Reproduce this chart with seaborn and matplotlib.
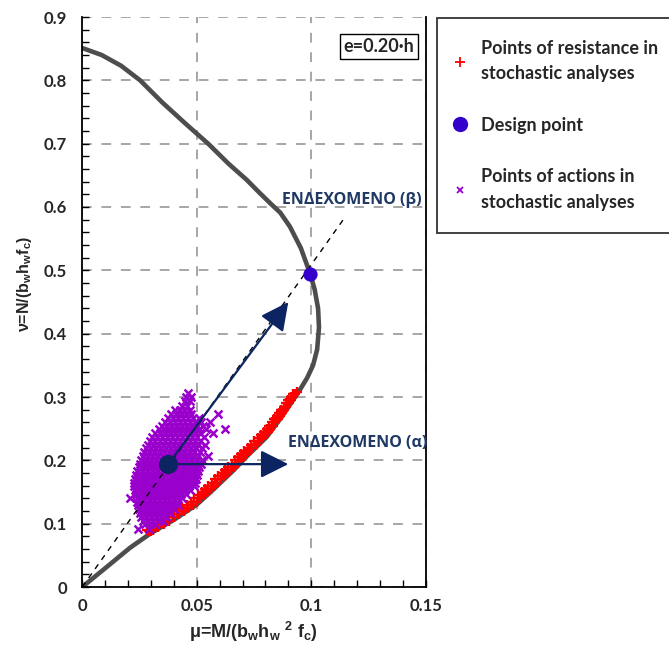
import matplotlib
matplotlib.use("Agg")
import matplotlib.pyplot as plt
import seaborn as sns
import pandas as pd
from matplotlib.lines import Line2D
from matplotlib.ticker import MultipleLocator, FuncFormatter

# ---------------- data ----------------
# M-N interaction curve for e = 0.20 h (normalised), traced from the origin
curve_mu = [0.0, 0.0105, 0.0209, 0.0300, 0.0400, 0.0500, 0.0573, 0.0660, 0.0718,
            0.0806, 0.0872, 0.0950, 0.0982, 0.1008, 0.1026, 0.1034, 0.1030, 0.1015,
            0.0995, 0.0955, 0.0907, 0.0865, 0.0821, 0.0770, 0.0718, 0.0640, 0.0550,
            0.0450, 0.0350, 0.0253, 0.0170, 0.0085, 0.0]
curve_nu = [0.0, 0.031, 0.062, 0.085, 0.106, 0.130, 0.154, 0.184, 0.206,
            0.237, 0.269, 0.311, 0.330, 0.350, 0.375, 0.410, 0.440, 0.470,
            0.495, 0.535, 0.569, 0.591, 0.606, 0.624, 0.643, 0.668, 0.700,
            0.732, 0.765, 0.800, 0.823, 0.840, 0.851]

# loading ray through the origin
ray_mu = [0.0, 0.114]
ray_nu = [0.0, 0.580]

design_point = (0.0993, 0.494)
action_point = (0.0376, 0.194)
arrow_tip_b = (0.0900, 0.450)
arrow_tip_a = (0.0900, 0.194)

# resistance points of the stochastic analyses (mu, nu)
resistance_points = [
    (0.0300, 0.088), (0.0290, 0.088), (0.0310, 0.090), (0.0285, 0.090),
    (0.0333, 0.095), (0.0305, 0.095), (0.0356, 0.100), (0.0328, 0.100),
    (0.0380, 0.105), (0.0352, 0.105), (0.0402, 0.110), (0.0373, 0.110),
    (0.0423, 0.115), (0.0395, 0.115), (0.0443, 0.120), (0.0416, 0.120),
    (0.0464, 0.125), (0.0437, 0.125), (0.0485, 0.130), (0.0458, 0.130),
    (0.0500, 0.135), (0.0474, 0.135), (0.0516, 0.140), (0.0490, 0.140),
    (0.0531, 0.145), (0.0505, 0.145), (0.0546, 0.150), (0.0521, 0.150),
    (0.0561, 0.155), (0.0536, 0.155), (0.0575, 0.160), (0.0551, 0.160),
    (0.0590, 0.165), (0.0566, 0.165), (0.0604, 0.170), (0.0580, 0.170),
    (0.0619, 0.175), (0.0595, 0.175), (0.0633, 0.180), (0.0609, 0.180),
    (0.0648, 0.185), (0.0624, 0.185), (0.0661, 0.190), (0.0638, 0.190),
    (0.0675, 0.195), (0.0652, 0.195), (0.0688, 0.200), (0.0666, 0.200),
    (0.0700, 0.205), (0.0679, 0.205), (0.0714, 0.210), (0.0693, 0.210),
    (0.0728, 0.215), (0.0708, 0.215), (0.0743, 0.220), (0.0723, 0.220),
    (0.0757, 0.225), (0.0738, 0.225), (0.0771, 0.230), (0.0752, 0.230),
    (0.0786, 0.235), (0.0767, 0.235), (0.0800, 0.240), (0.0782, 0.240),
    (0.0811, 0.245), (0.0795, 0.245), (0.0822, 0.250), (0.0806, 0.250),
    (0.0832, 0.255), (0.0817, 0.255), (0.0842, 0.260), (0.0828, 0.260),
    (0.0853, 0.265), (0.0839, 0.265), (0.0863, 0.270), (0.0849, 0.270),
    (0.0872, 0.275), (0.0859, 0.275), (0.0882, 0.280), (0.0870, 0.280),
    (0.0892, 0.285), (0.0880, 0.285), (0.0901, 0.290), (0.0890, 0.290),
    (0.0911, 0.295), (0.0900, 0.295), (0.0921, 0.300), (0.0910, 0.300),
    (0.0930, 0.305), (0.0920, 0.305), (0.0937, 0.308),
]

# action points of the stochastic analyses (mu, nu)
action_points = [
    (0.0462, 0.307),
    (0.0455, 0.300), (0.0474, 0.300),
    (0.0448, 0.293), (0.0471, 0.293),
    (0.0437, 0.286), (0.0458, 0.286),
    (0.0405, 0.279), (0.0427, 0.279), (0.0449, 0.279), (0.0470, 0.279),
    (0.0388, 0.273), (0.0410, 0.273), (0.0432, 0.273), (0.0454, 0.273), (0.0476, 0.273), (0.0594, 0.273),
    (0.0374, 0.267), (0.0396, 0.267), (0.0418, 0.267), (0.0440, 0.267), (0.0462, 0.267), (0.0484, 0.267),
    (0.0508, 0.267),
    (0.0362, 0.261), (0.0384, 0.261), (0.0406, 0.261), (0.0428, 0.261), (0.0450, 0.261), (0.0472, 0.261),
    (0.0494, 0.261), (0.0520, 0.261), (0.0556, 0.261),
    (0.0348, 0.255), (0.0370, 0.255), (0.0392, 0.255), (0.0414, 0.255), (0.0436, 0.255), (0.0458, 0.255),
    (0.0480, 0.255), (0.0502, 0.255), (0.0528, 0.255),
    (0.0334, 0.249), (0.0356, 0.249), (0.0378, 0.249), (0.0400, 0.249), (0.0422, 0.249), (0.0444, 0.249),
    (0.0466, 0.249), (0.0488, 0.249), (0.0510, 0.249), (0.0540, 0.249), (0.0624, 0.249),
    (0.0318, 0.243), (0.0340, 0.243), (0.0362, 0.243), (0.0384, 0.243), (0.0406, 0.243), (0.0428, 0.243),
    (0.0450, 0.243), (0.0472, 0.243), (0.0494, 0.243), (0.0516, 0.243), (0.0573, 0.243),
    (0.0304, 0.237), (0.0326, 0.237), (0.0348, 0.237), (0.0370, 0.237), (0.0392, 0.237), (0.0414, 0.237),
    (0.0436, 0.237), (0.0458, 0.237), (0.0480, 0.237), (0.0502, 0.237), (0.0532, 0.237),
    (0.0294, 0.231), (0.0316, 0.231), (0.0338, 0.231), (0.0360, 0.231), (0.0382, 0.231), (0.0404, 0.231),
    (0.0426, 0.231), (0.0448, 0.231), (0.0470, 0.231), (0.0492, 0.231), (0.0516, 0.231),
    (0.0286, 0.225), (0.0308, 0.225), (0.0330, 0.225), (0.0352, 0.225), (0.0374, 0.225), (0.0396, 0.225),
    (0.0418, 0.225), (0.0440, 0.225), (0.0462, 0.225), (0.0484, 0.225), (0.0506, 0.225), (0.0538, 0.225),
    (0.0278, 0.219), (0.0300, 0.219), (0.0322, 0.219), (0.0344, 0.219), (0.0366, 0.219), (0.0388, 0.219),
    (0.0410, 0.219), (0.0432, 0.219), (0.0454, 0.219), (0.0476, 0.219), (0.0498, 0.219), (0.0522, 0.219),
    (0.0270, 0.213), (0.0292, 0.213), (0.0314, 0.213), (0.0336, 0.213), (0.0358, 0.213), (0.0380, 0.213),
    (0.0402, 0.213), (0.0424, 0.213), (0.0446, 0.213), (0.0468, 0.213), (0.0490, 0.213), (0.0514, 0.213),
    (0.0264, 0.207), (0.0286, 0.207), (0.0308, 0.207), (0.0330, 0.207), (0.0352, 0.207), (0.0374, 0.207),
    (0.0396, 0.207), (0.0418, 0.207), (0.0440, 0.207), (0.0462, 0.207), (0.0484, 0.207), (0.0506, 0.207),
    (0.0551, 0.207),
    (0.0258, 0.201), (0.0280, 0.201), (0.0302, 0.201), (0.0324, 0.201), (0.0346, 0.201), (0.0368, 0.201),
    (0.0390, 0.201), (0.0412, 0.201), (0.0434, 0.201), (0.0456, 0.201), (0.0478, 0.201), (0.0500, 0.201),
    (0.0524, 0.201),
    (0.0252, 0.195), (0.0274, 0.195), (0.0296, 0.195), (0.0318, 0.195), (0.0340, 0.195), (0.0362, 0.195),
    (0.0384, 0.195), (0.0406, 0.195), (0.0428, 0.195), (0.0450, 0.195), (0.0472, 0.195), (0.0494, 0.195),
    (0.0518, 0.195),
    (0.0246, 0.189), (0.0268, 0.189), (0.0290, 0.189), (0.0312, 0.189), (0.0334, 0.189), (0.0356, 0.189),
    (0.0378, 0.189), (0.0400, 0.189), (0.0422, 0.189), (0.0444, 0.189), (0.0466, 0.189), (0.0488, 0.189),
    (0.0510, 0.189),
    (0.0240, 0.183), (0.0262, 0.183), (0.0284, 0.183), (0.0306, 0.183), (0.0328, 0.183), (0.0350, 0.183),
    (0.0372, 0.183), (0.0394, 0.183), (0.0416, 0.183), (0.0438, 0.183), (0.0460, 0.183), (0.0482, 0.183),
    (0.0505, 0.183),
    (0.0236, 0.177), (0.0258, 0.177), (0.0280, 0.177), (0.0302, 0.177), (0.0324, 0.177), (0.0346, 0.177),
    (0.0368, 0.177), (0.0390, 0.177), (0.0412, 0.177), (0.0434, 0.177), (0.0456, 0.177), (0.0478, 0.177),
    (0.0500, 0.177),
    (0.0232, 0.171), (0.0254, 0.171), (0.0276, 0.171), (0.0298, 0.171), (0.0320, 0.171), (0.0342, 0.171),
    (0.0364, 0.171), (0.0386, 0.171), (0.0408, 0.171), (0.0430, 0.171), (0.0452, 0.171), (0.0474, 0.171),
    (0.0496, 0.171),
    (0.0228, 0.165), (0.0250, 0.165), (0.0272, 0.165), (0.0294, 0.165), (0.0316, 0.165), (0.0338, 0.165),
    (0.0360, 0.165), (0.0382, 0.165), (0.0404, 0.165), (0.0426, 0.165), (0.0448, 0.165), (0.0470, 0.165),
    (0.0492, 0.165),
    (0.0226, 0.159), (0.0248, 0.159), (0.0270, 0.159), (0.0292, 0.159), (0.0314, 0.159), (0.0336, 0.159),
    (0.0358, 0.159), (0.0380, 0.159), (0.0402, 0.159), (0.0424, 0.159), (0.0446, 0.159), (0.0468, 0.159),
    (0.0490, 0.159),
    (0.0230, 0.153), (0.0252, 0.153), (0.0274, 0.153), (0.0296, 0.153), (0.0318, 0.153), (0.0340, 0.153),
    (0.0362, 0.153), (0.0384, 0.153), (0.0406, 0.153), (0.0428, 0.153), (0.0450, 0.153), (0.0472, 0.153),
    (0.0234, 0.147), (0.0256, 0.147), (0.0278, 0.147), (0.0300, 0.147), (0.0322, 0.147), (0.0344, 0.147),
    (0.0366, 0.147), (0.0388, 0.147), (0.0410, 0.147), (0.0432, 0.147), (0.0454, 0.147),
    (0.0209, 0.141), (0.0238, 0.141), (0.0260, 0.141), (0.0282, 0.141), (0.0304, 0.141), (0.0326, 0.141),
    (0.0348, 0.141), (0.0370, 0.141), (0.0392, 0.141), (0.0414, 0.141), (0.0436, 0.141),
    (0.0240, 0.135), (0.0262, 0.135), (0.0284, 0.135), (0.0306, 0.135), (0.0328, 0.135), (0.0350, 0.135),
    (0.0372, 0.135), (0.0394, 0.135), (0.0416, 0.135),
    (0.0244, 0.129), (0.0266, 0.129), (0.0288, 0.129), (0.0310, 0.129), (0.0332, 0.129), (0.0354, 0.129),
    (0.0376, 0.129), (0.0398, 0.129), (0.0420, 0.129),
    (0.0248, 0.123), (0.0270, 0.123), (0.0292, 0.123), (0.0314, 0.123), (0.0336, 0.123), (0.0358, 0.123),
    (0.0380, 0.123), (0.0402, 0.123),
    (0.0252, 0.117), (0.0274, 0.117), (0.0296, 0.117), (0.0318, 0.117), (0.0340, 0.117), (0.0362, 0.117),
    (0.0384, 0.117),
    (0.0258, 0.111), (0.0280, 0.111), (0.0302, 0.111), (0.0324, 0.111), (0.0346, 0.111), (0.0368, 0.111),
    (0.0266, 0.105), (0.0288, 0.105), (0.0310, 0.105), (0.0332, 0.105), (0.0354, 0.105),
    (0.0276, 0.099), (0.0298, 0.099), (0.0320, 0.099),
    (0.0245, 0.092), (0.0292, 0.092),
]

x_ticks = [0.0, 0.05, 0.10, 0.15]
y_ticks = [0.0, 0.1, 0.2, 0.3, 0.4, 0.5, 0.6, 0.7, 0.8, 0.9]

legend_labels = ["Points of resistance in\nstochastic analyses",
                 "Design point",
                 "Points of actions in\nstochastic analyses"]

# ---------------- style ----------------
sns.set_style("white")
plt.rcParams["font.family"] = ["Lato", "Open Sans", "DejaVu Sans"]
plt.rcParams["font.weight"] = "bold"
plt.rcParams["mathtext.fontset"] = "custom"
plt.rcParams["mathtext.rm"] = "Liberation Sans:bold"
plt.rcParams["mathtext.it"] = "Liberation Sans:bold"
plt.rcParams["mathtext.bf"] = "Liberation Sans:bold"

RED = "#ff0000"
PURPLE = "#9900cc"
DESIGN = "#3300cc"
NAVY = "#0c2461"
CURVE = "#4d4d4d"
GRID = "#a6a6a6"
TEXT_NAVY = "#1f3864"

W, H = 669, 646
fig = plt.figure(figsize=(W / 100, H / 100), dpi=100)
ax = fig.add_axes([82.2 / W, 1 - 587 / H, (425.7 - 82.2) / W, 570 / H])

curve_df = pd.DataFrame({"mu": curve_mu, "nu": curve_nu})
res_df = pd.DataFrame(resistance_points, columns=["mu", "nu"])
act_df = pd.DataFrame(action_points, columns=["mu", "nu"])

# interaction curve
sns.lineplot(data=curve_df, x="mu", y="nu", sort=False, estimator=None,
             color=CURVE, lw=3.3, ax=ax, zorder=2)
ax.lines[-1].set_solid_joinstyle("round")
ax.lines[-1].set_solid_capstyle("round")

# stochastic clouds
sns.scatterplot(data=res_df, x="mu", y="nu", marker="+", color=RED,
                s=46, linewidth=1.7, ax=ax, zorder=3)
sns.scatterplot(data=act_df, x="mu", y="nu", marker="x", color=PURPLE,
                s=32, linewidth=1.8, ax=ax, zorder=4)

# loading ray
sns.lineplot(x=ray_mu, y=ray_nu, color="black", lw=1.0, ax=ax, zorder=5,
             linestyle=(0, (4, 4)))

# arrows from the mean action point
for tip in (arrow_tip_b, arrow_tip_a):
    ax.annotate("", xy=tip, xytext=action_point,
                arrowprops=dict(arrowstyle="-|>,head_length=0.9,head_width=0.45",
                                color=NAVY, lw=1.6, mutation_scale=19,
                                shrinkA=0, shrinkB=0), zorder=6)

# mean action point and design point
sns.scatterplot(x=[action_point[0]], y=[action_point[1]], color=NAVY, s=190,
                linewidth=0, ax=ax, zorder=7)
sns.scatterplot(x=[design_point[0]], y=[design_point[1]], color=DESIGN, s=105,
                linewidth=0, ax=ax, zorder=7)

# annotations
ax.text(0.0900, 0.227, "ΕΝΔΕΧΟΜΕΝΟ (α)", color=TEXT_NAVY, fontsize=11.5,
        family="Open Sans", fontweight="bold", va="center", ha="left", zorder=8)
ax.text(0.0873, 0.611, "ΕΝΔΕΧΟΜΕΝΟ (β)", color=TEXT_NAVY, fontsize=11.5,
        family="Open Sans", fontweight="bold", va="center", ha="left", zorder=8)
ax.text(0.1296, 0.854, "e=0.20·h", fontsize=13, fontweight="bold",
        ha="center", va="center", zorder=8,
        bbox=dict(boxstyle="square,pad=0.22", fc="white", ec="black", lw=1.0))

# axes
ax.set_xlim(0, 0.15)
ax.set_ylim(0, 0.9)
ax.set_xticks(x_ticks)
ax.set_yticks(y_ticks)
ax.xaxis.set_minor_locator(MultipleLocator(0.01))
ax.yaxis.set_minor_locator(MultipleLocator(0.02))
fmt = FuncFormatter(lambda v, p: "%g" % round(v, 3))
ax.xaxis.set_major_formatter(fmt)
ax.yaxis.set_major_formatter(fmt)
ax.tick_params(which="both", direction="in", length=5, width=1.0, color="black",
               bottom=True, left=True, top=False, right=False)
ax.tick_params(axis="both", which="major", labelsize=12)
ax.tick_params(axis="x", which="major", pad=8)
ax.tick_params(axis="y", which="major", pad=11)
for lab in ax.get_xticklabels() + ax.get_yticklabels():
    lab.set_fontweight("bold")

ax.grid(True, which="major", color=GRID, linestyle=(0, (5, 5)), lw=1.4)
ax.set_axisbelow(True)
for side in ("left", "bottom", "right"):
    ax.spines[side].set_visible(True)
    ax.spines[side].set_color("black")
    ax.spines[side].set_linewidth(1.3)
ax.spines["top"].set_visible(False)
ax.set_xlabel("")
ax.set_ylabel("")

fig.text(253 / W, 1 - 632 / H, "μ=M/(b$_w$h$_w$ $^2$ f$_c$)", ha="center", va="center",
         fontsize=13, family="Liberation Sans", fontweight="bold")
fig.text(25 / W, 1 - 284 / H, "ν=N/(b$_w$h$_w$f$_c$)", ha="center", va="center",
         rotation=90, fontsize=11.5, family="Liberation Sans", fontweight="bold")

# legend
handles = [
    Line2D([], [], ls="none", marker="+", color=RED, ms=7, mew=1.3),
    Line2D([], [], ls="none", marker="o", color=DESIGN, ms=11, mew=0),
    Line2D([], [], ls="none", marker="x", color=PURPLE, ms=5, mew=1.3),
]
leg = fig.legend(handles, legend_labels, loc="upper left",
                 bbox_to_anchor=(437 / W, 1 - 18 / H), borderaxespad=0,
                 frameon=True, fancybox=False, edgecolor="black",
                 prop={"family": "Lato", "weight": "bold", "size": 13},
                 handlelength=0.2, handletextpad=1.05, borderpad=1.2,
                 labelspacing=1.9)
leg.get_frame().set_linewidth(1.3)
for t in leg.get_texts():
    t.set_linespacing(1.63)

fig.savefig("out.png", dpi=100)
